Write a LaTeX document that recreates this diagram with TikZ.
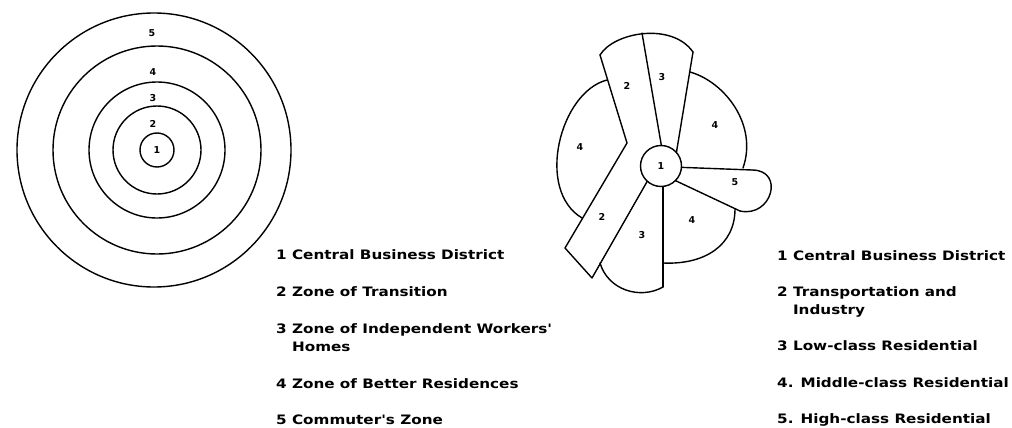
\documentclass[tikz,border=0pt]{standalone}
\usepackage{fontspec}
\setmainfont{DejaVu Sans}
\newfontfamily\legendfont{DejaVu Sans}[FakeStretch=1.17]
\begin{document}
\begin{tikzpicture}[x=1pt,y=-1pt,
  ring/.style={draw=black, line width=1.4pt},
  edge/.style={draw=black, line width=1.4pt, line join=round, line cap=round},
  zl/.style={font=\fontsize{9.5}{9.5}\selectfont\bfseries, inner sep=0pt},
  legend/.style={font=\legendfont\fontsize{13}{16}\selectfont\bfseries, anchor=base west, inner sep=0pt}]
\useasboundingbox (0,0) rectangle (1012,428);
% ---------- concentric zone model ----------
\draw[ring] (154,150) circle (137);
\draw[ring] (157,150) circle (104);
\draw[ring] (157,150) circle (68);
\draw[ring] (157,150) circle (44);
\draw[ring] (157,150) circle (17);
\node[zl] (c5) at (152,33) {5};
\node[zl] (c4) at (153,72) {4};
\node[zl] (c3) at (153,98) {3};
\node[zl] (c2) at (153,124) {2};
\node[zl] (c1) at (157,150) {1};
% ---------- sector model ----------
% top arc over sectors 2 and 3
\draw[edge] (600,55) .. controls (614,32) and (672,22) .. (693,52);
% sector 2 (transportation) outline
\draw[edge] (600,55) -- (627,143) -- (565,248) -- (592,278) -- (648,180);
% boundary 2/3 (top)
\draw[edge] (642,33) -- (663,155);
% boundary 3/4 (top)
\draw[edge] (693,52) -- (676,155);
% upper right sector 4
\draw[edge] (690,72) .. controls (725,82) and (758,125) .. (743,168);
% sector 5 lobe
\draw[edge] (672,167) -- (752,170);
\draw[edge] (752,170) .. controls (785,170) and (772,218) .. (740,211);
\draw[edge] (740,211) -- (672,179);
% lower right sector 4
\draw[edge] (735,209) .. controls (735,245) and (705,265) .. (663,263);
% vertical boundary 3/4 (bottom)
\draw[edge] (663,178) -- (663,287);
% lower sector 3
\draw[edge] (600,263) .. controls (608,290) and (640,300) .. (663,287);
% left sector 4
\draw[edge] (607,80) .. controls (560,92) and (535,190) .. (582,218);
% CBD
\node[circle, draw=black, line width=1.4pt, fill=white, minimum size=41pt, inner sep=0pt,
      font=\fontsize{9.5}{9.5}\selectfont\bfseries] (cbd) at (661,166) {1};
\node[zl] (s2a) at (627,86) {2};
\node[zl] (s3a) at (662,77) {3};
\node[zl] (s4a) at (715,125) {4};
\node[zl] (s4b) at (580,147) {4};
\node[zl] (s5) at (735,182) {5};
\node[zl] (s4c) at (692,220) {4};
\node[zl] (s2b) at (602,217) {2};
\node[zl] (s3b) at (642,235) {3};
% ---------- legends ----------
\node[legend] (l1) at (276,259) {1 Central Business District};
\node[legend] (l2) at (276,296) {2 Zone of Transition};
\node[legend] (l3) at (276,333) {3 Zone of Independent Workers'};
\node[legend] (l3b) at (276,351) {\hphantom{3 }Homes};
\node[legend] (l4) at (276,388) {4 Zone of Better Residences};
\node[legend] (l5) at (276,424) {5 Commuter's Zone};
\node[legend] (r1) at (777,260) {1 Central Business District};
\node[legend] (r2) at (777,296) {2 Transportation and};
\node[legend] (r2b) at (777,314) {\hphantom{2 }Industry};
\node[legend] (r3) at (777,350) {3 Low-class Residential};
\node[legend] (r4) at (777,387) {4. Middle-class Residential};
\node[legend] (r5) at (777,423) {5. High-class Residential};
\end{tikzpicture}
\end{document}
